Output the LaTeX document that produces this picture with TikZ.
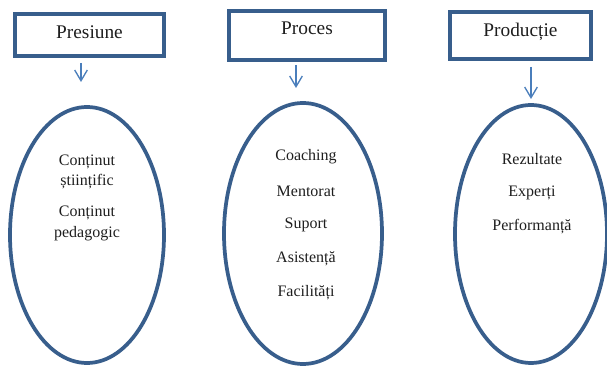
\documentclass[tikz,border=0pt]{standalone}
\usepackage{fontspec}
\setmainfont{Liberation Serif}
\usetikzlibrary{shapes.geometric,arrows.meta}
\definecolor{boxblue}{RGB}{56,94,140}
\definecolor{arrowblue}{RGB}{74,126,187}
\definecolor{ink}{RGB}{30,30,30}
\tikzstyle{head} = [rectangle, draw=boxblue, line width=3pt, text=ink, font=\fontsize{14.5}{17}\selectfont, text height=10pt]
\tikzstyle{bubble} = [ellipse, draw=boxblue, line width=2.8pt]
\tikzstyle{entry} = [text=ink, font=\fontsize{12}{14}\selectfont, inner sep=0pt]
\tikzstyle{pointer} = [draw=arrowblue, line width=1pt, -{Straight Barb[length=8pt,width=9.5pt]}]

\begin{document}
\begin{tikzpicture}[x=0.75pt, y=-0.75pt]
\useasboundingbox (0,0) rectangle (607,366);

% titles
\node [head, minimum width=111.75pt, minimum height=31.5pt, text depth=4pt] at (89.5,35) (pres) {Presiune};
\node [head, minimum width=117pt, minimum height=36.75pt, text depth=10.75pt] at (307,35.5) (proc) {Proces};
\node [head, minimum width=105.75pt, minimum height=35.25pt, text depth=8.2pt] at (520.5,35.5) (prod) {Producție};

% ellipses
\node [bubble, minimum width=115.5pt, minimum height=192pt] at (87,235) (presset) {};
\node [bubble, minimum width=118.5pt, minimum height=195.75pt] at (303,233.5) (procset) {};
\node [bubble, minimum width=114pt, minimum height=193.5pt] at (531,234) (prodset) {};

% contents
\node [entry] at (87,162) (pres-1) {Conținut};
\node [entry] at (87,182) (pres-2) {științific};
\node [entry] at (87,213) (pres-3) {Conținut};
\node [entry] at (87,234) (pres-4) {pedagogic};

\foreach \txt [count=\i] in {Coaching, Mentorat, Suport, Asistență, Facilități}
  \node [entry] at (306, 123+34*\i) (proc-\i) {\txt};

\foreach \txt [count=\i] in {Rezultate, Experți, Performanță}
  \node [entry] at (532, 125+34*\i) (prod-\i) {\txt};

% arrows
\coordinate (pres-tip) at (81,82);
\coordinate (proc-tip) at (296,88);
\coordinate (prod-tip) at (531,99);
\path [pointer, shorten <=3.75pt] (pres.south -| pres-tip) to (pres-tip);
\path [pointer, shorten <=2.25pt] (proc.south -| proc-tip) to (proc-tip);
\path [pointer, shorten <=4.5pt] (prod.south -| prod-tip) to (prod-tip);

\end{tikzpicture}
\end{document}
